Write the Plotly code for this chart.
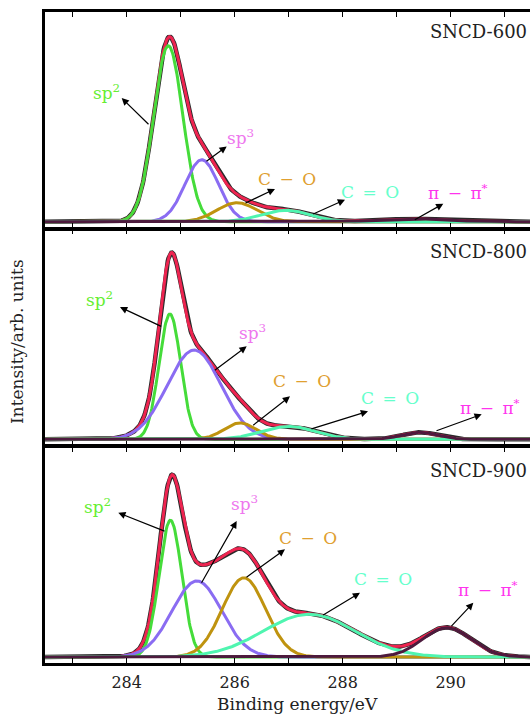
import numpy as np
import plotly.graph_objects as go
from plotly.subplots import make_subplots

# ---------------- data (fitted peak parameters) ----------------
components = ["sp2", "sp3", "C−O", "C=O", "π−π*"]
samples = ["SNCD-600", "SNCD-800", "SNCD-900"]

centers_600 = [284.77, 285.39, 286.04, 286.95, 289.30]
heights_600 = [0.926, 0.326, 0.100, 0.060, 0.015]
widths_600 = [0.27, 0.31, 0.37, 0.45, 0.60]

centers_800 = [284.80, 285.25, 286.10, 287.00, 289.43]
heights_800 = [0.660, 0.470, 0.086, 0.068, 0.037]
widths_800 = [0.20, 0.50, 0.30, 0.50, 0.33]

centers_900 = [284.81, 285.30, 286.17, 287.38, 289.93]
heights_900 = [0.720, 0.400, 0.417, 0.225, 0.154]
widths_900 = [0.21, 0.46, 0.40, 0.85, 0.45]

x_ticks = [283, 284, 285, 286, 287, 288, 289, 290, 291]
x_tick_text = ["", "284", "", "286", "", "288", "", "290", ""]

params = [
    (centers_600, heights_600, widths_600),
    (centers_800, heights_800, widths_800),
    (centers_900, heights_900, widths_900),
]

# ---------------- styling ----------------
comp_colors = ["#45dc3a", "#8a6cf2", "#bf930f", "#4ff5b0", "#4d1a3d"]
label_colors = ["#66ee33", "#ee77ee", "#e0a030", "#66ffcc", "#ff33ee"]
SP = "\u2002"
label_text = ["sp<sup>2</sup>", "sp<sup>3</sup>", f"C{SP}−{SP}O", f"C{SP}={SP}O",
              f"π{SP}−{SP}π<sup>*</sup>"]
FONT = "DejaVu Serif"

W, H = 530, 715
ML, MR, MT, MB = 45, 0, 12, 52
PX_PER_EV = 54.0


def px_to_x(px):
    return 283 + (px - 72.7) / PX_PER_EV


bases = [222, 438, 656]
PX_PER_UNIT = 190.0


def py_to_y(py, panel):
    return (bases[panel] - py) / PX_PER_UNIT


xr = [px_to_x(ML), px_to_x(W - MR)]
yr = [-0.0316, 1.104]

xgrid = np.linspace(xr[0], xr[1], 700)

fig = make_subplots(rows=3, cols=1, shared_xaxes=True, vertical_spacing=0.003)

for i, (cs, hs, ws) in enumerate(params):
    row = i + 1
    curves = [h * np.exp(-0.5 * ((xgrid - c) / w) ** 2) for c, h, w in zip(cs, hs, ws)]
    total = np.sum(curves, axis=0)
    fig.add_trace(go.Scatter(x=xgrid, y=total, mode="lines",
                             line=dict(color="#2a2a2a", width=4.5), showlegend=False,
                             hoverinfo="skip"), row=row, col=1)
    fig.add_trace(go.Scatter(x=xgrid, y=total, mode="lines",
                             line=dict(color="#ee2450", width=3), showlegend=False,
                             hoverinfo="skip"), row=row, col=1)
    for k, cv in enumerate(curves):
        fig.add_trace(go.Scatter(x=xgrid, y=cv, mode="lines", name=components[k],
                                 line=dict(color=comp_colors[k], width=3), showlegend=False,
                                 hoverinfo="skip"), row=row, col=1)

# ---------------- axes ----------------
for r in range(1, 4):
    fig.update_xaxes(range=xr, tickvals=x_ticks, ticktext=x_tick_text, ticks="inside",
                     ticklen=5, tickwidth=1.2, tickcolor="black", showline=True,
                     linecolor="black", linewidth=2.5, mirror="ticks", showgrid=False,
                     zeroline=False, showticklabels=(r == 3), ticklabelstandoff=3,
                     tickfont=dict(family=FONT, size=16, color="#222222"), row=r, col=1)
    fig.update_yaxes(range=yr, showticklabels=False, ticks="", showline=True,
                     linecolor="black", linewidth=2.5, mirror=False, showgrid=False,
                     zeroline=False, row=r, col=1)

# ---------------- annotations (positions in pixels of the picture) ----------------
label_pos = [
    [(106, 92), (240, 137), (287, 179), (370, 192), (458, 192)],
    [(99, 298), (252, 331), (302, 380), (390, 397), (490, 406)],
    [(97, 505), (244, 502), (308, 537), (383, 578), (488, 588)],
]
arrows = [
    [((150, 126), (121.7, 98.3)), ((205, 162.7), (226.7, 146.7)), ((244, 204), (275, 189.3)),
     ((311.7, 215), (345, 200)), ((413.3, 221), (443.3, 204))],
    [((162.7, 325.7), (120, 305.7)), ((213.3, 370), (246.7, 345)), ((251.7, 425), (290, 395)),
     ((310, 428), (368, 410)), ((435, 430), (481.7, 413))],
    [((166, 530.7), (118.3, 511.7)), ((200.7, 583.3), (236.7, 520)), ((245, 577.3), (285, 548.3)),
     ((321.7, 615), (360, 591.7)), ((450, 626.7), (473.3, 601.7))],
]
sample_y_px = [32, 250, 469]

for p in range(3):
    xref = "x" if p == 0 else f"x{p+1}"
    yref = "y" if p == 0 else f"y{p+1}"
    for k in range(5):
        lx, ly = label_pos[p][k]
        fig.add_annotation(x=px_to_x(lx), y=py_to_y(ly, p), xref=xref, yref=yref,
                           text=label_text[k], showarrow=False,
                           xanchor="center", yanchor="middle",
                           font=dict(family=FONT, size=17, color=label_colors[k]))
        (tx, ty), (hx, hy) = arrows[p][k]
        fig.add_annotation(x=px_to_x(hx), y=py_to_y(hy, p), xref=xref, yref=yref,
                           ax=px_to_x(tx), ay=py_to_y(ty, p), axref=xref, ayref=yref,
                           text="", showarrow=True, arrowhead=2, arrowsize=1.2,
                           arrowwidth=1.2, arrowcolor="black", standoff=0, startstandoff=0)
    fig.add_annotation(x=px_to_x(529), y=py_to_y(sample_y_px[p], p), xref=xref, yref=yref,
                       text=samples[p], showarrow=False, xanchor="right", yanchor="middle",
                       font=dict(family=FONT, size=18, color="#222222"))

plot_h = H - MT - MB
plot_w = W - ML - MR
fig.add_annotation(x=(17 - ML) / plot_w, y=(H - MB - 342) / plot_h, xref="paper", yref="paper",
                   text="Intensity/arb. units", textangle=-90, showarrow=False,
                   xanchor="center", yanchor="middle",
                   font=dict(family=FONT, size=17, color="#222222"))
fig.add_annotation(x=(297 - ML) / plot_w, y=(H - MB - 704) / plot_h, xref="paper", yref="paper",
                   text="Binding energy/eV", showarrow=False,
                   xanchor="center", yanchor="middle",
                   font=dict(family=FONT, size=17, color="#222222"))

fig.update_layout(width=W, height=H, margin=dict(l=ML, r=MR, t=MT, b=MB),
                  paper_bgcolor="white", plot_bgcolor="white", showlegend=False)

fig.write_html("out.html", config={"displayModeBar": False},
               post_script="document.body.style.margin='0';document.body.style.overflow='hidden';")
